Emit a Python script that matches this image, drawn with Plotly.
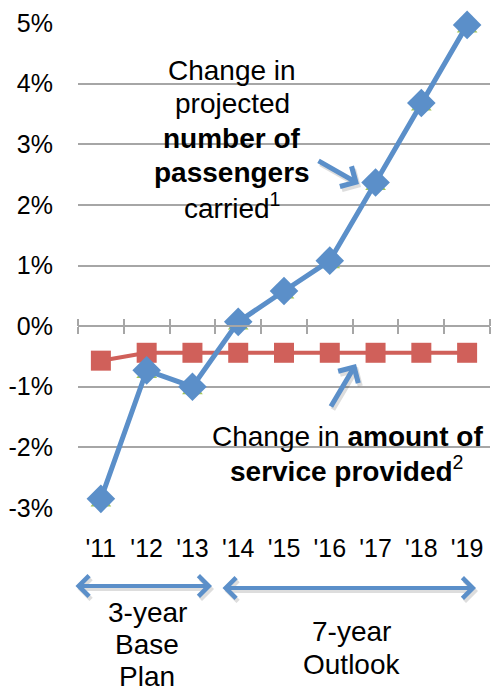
import plotly.graph_objects as go

# ---------------- data ----------------
years = ["'11", "'12", "'13", "'14", "'15", "'16", "'17", "'18", "'19"]
passengers_change = [-2.85, -0.73, -1.00, 0.07, 0.58, 1.08, 2.37, 3.68, 4.97]
passengers_marker2 = [-2.90, -0.78, -1.05, 0.02, 0.53, 1.03, 2.32, 3.63, 4.92]
service_change = [-0.57, -0.44, -0.44, -0.44, -0.44, -0.44, -0.44, -0.44, -0.44]
y_ticks = [-3, -2, -1, 0, 1, 2, 3, 4, 5]
y_tick_labels = ["-3%", "-2%", "-1%", "0%", "1%", "2%", "3%", "4%", "5%"]

# ---------------- layout constants ----------------
W, H = 492, 692
L, R, T, B = 78, 2, 23, 184
PW, PH = W - L - R, H - T - B
FONT = "Liberation Sans, Arial, sans-serif"
BLUE = "#5B8FC9"
RED = "#D0605A"
GREEN = "#A3C659"
GRID = "#A6A6A6"


def px(x):
    return (x - L) / PW


def py(y):
    return (T + PH - y) / PH


fig = go.Figure()

# green triangles (behind)
fig.add_trace(go.Scatter(x=years, y=passengers_marker2, mode="markers",
                         marker=dict(symbol="triangle-up", size=18, color=GREEN),
                         cliponaxis=False, showlegend=False, hoverinfo="skip"))
# red service line
fig.add_trace(go.Scatter(x=years, y=service_change, mode="lines+markers",
                         line=dict(color=RED, width=4),
                         marker=dict(symbol="square", size=20, color=RED),
                         cliponaxis=False, showlegend=False))
# blue passengers line
fig.add_trace(go.Scatter(x=years, y=passengers_change, mode="lines+markers",
                         line=dict(color=BLUE, width=5),
                         marker=dict(symbol="diamond", size=22, color=BLUE),
                         cliponaxis=False, showlegend=False))
# invisible traces to carry the zero-line tick axes
for ax in ["x2", "x3"]:
    fig.add_trace(go.Scatter(x=years, y=service_change, xaxis=ax, yaxis="y",
                             mode="markers", marker=dict(opacity=0),
                             showlegend=False, hoverinfo="skip"))

fig.update_layout(
    width=W, height=H,
    margin=dict(l=L, r=R, t=T, b=B),
    paper_bgcolor="white", plot_bgcolor="white",
    font=dict(family=FONT, color="black", size=25),
    showlegend=False,
    xaxis=dict(type="category", categoryorder="array", categoryarray=years,
               range=[-0.5, 8.5], showgrid=False, showline=False, zeroline=False,
               ticks="", tickfont=dict(size=25), ticklabelstandoff=23),
    xaxis2=dict(type="category", categoryorder="array", categoryarray=years,
                range=[-0.5, 8.5], overlaying="x", anchor="free", position=3 / 8,
                side="bottom", showline=True, linecolor=GRID, linewidth=2,
                ticks="outside", ticklen=7, tickwidth=2, tickcolor=GRID,
                tickson="boundaries", showticklabels=False, showgrid=False, zeroline=False),
    xaxis3=dict(type="category", categoryorder="array", categoryarray=years,
                range=[-0.5, 8.5], overlaying="x", anchor="free", position=3 / 8,
                side="top", showline=False,
                ticks="outside", ticklen=7, tickwidth=2, tickcolor=GRID,
                tickson="boundaries", showticklabels=False, showgrid=False, zeroline=False),
    yaxis=dict(range=[-3.001, 5.001], tickvals=y_ticks, ticktext=y_tick_labels,
               showgrid=True, gridcolor=GRID, gridwidth=2, zeroline=False,
               showline=False, ticks="", tickfont=dict(size=25), ticklabelstandoff=24),
)

# white boxes behind the text blocks (hide gridlines)
fig.add_shape(type="rect", xref="paper", yref="paper", layer="between",
              x0=px(136), x1=px(323), y0=py(228), y1=py(45),
              fillcolor="white", line=dict(width=0))
fig.add_shape(type="rect", xref="paper", yref="paper", layer="between",
              x0=px(204), x1=px(W + 5), y0=py(486), y1=py(418),
              fillcolor="white", line=dict(width=0))


def text(x, y, s, size=28):
    fig.add_annotation(x=px(x), y=py(y), xref="paper", yref="paper", text=s,
                       showarrow=False, xanchor="center", yanchor="middle",
                       borderpad=0,
                       font=dict(size=size, family=FONT, color="black"))


top_lines = ["Change in", "projected", "<b>number of</b>", "<b>passengers</b>",
             "carried<sup>1</sup>"]
for i, s in enumerate(top_lines):
    text(232, 70 + i * 34, s)

text(347, 436, "Change in <b>amount of</b>")
text(346, 469, "<b>service provided</b><sup>2</sup>")

text(147, 612, "3-year")
text(147, 644, "Base")
text(147, 676, "Plan")
text(351, 631, "7-year")
text(351, 664, "Outlook")


def arrow(hx, hy, tx, ty, width, size, both=False, shadow=True):
    if shadow:
        fig.add_annotation(x=px(hx + 2), y=py(hy + 3), xref="paper", yref="paper",
                           ax=tx - hx, ay=ty - hy, text="", showarrow=True,
                           arrowhead=4, arrowsize=size, arrowwidth=width,
                           arrowcolor="rgba(0,0,0,0.13)",
                           arrowside="end+start" if both else "end",
                           startarrowhead=4, startarrowsize=size, standoff=0)
    fig.add_annotation(x=px(hx), y=py(hy), xref="paper", yref="paper",
                       ax=tx - hx, ay=ty - hy, text="", showarrow=True,
                       arrowhead=4, arrowsize=size, arrowwidth=width, arrowcolor=BLUE,
                       arrowside="end+start" if both else "end",
                       startarrowhead=4, startarrowsize=size, standoff=0)


arrow(359, 184, 317, 160, 5, 0.9)
arrow(356, 364, 330, 408, 5, 0.9)
arrow(212, 586, 74, 586, 4, 1.0, both=True)
arrow(476, 588, 221, 588, 4, 1.0, both=True)

fig.write_html("out.html", config={"displayModeBar": False},
               post_script="document.body.style.margin='0';document.body.style.padding='0';")
